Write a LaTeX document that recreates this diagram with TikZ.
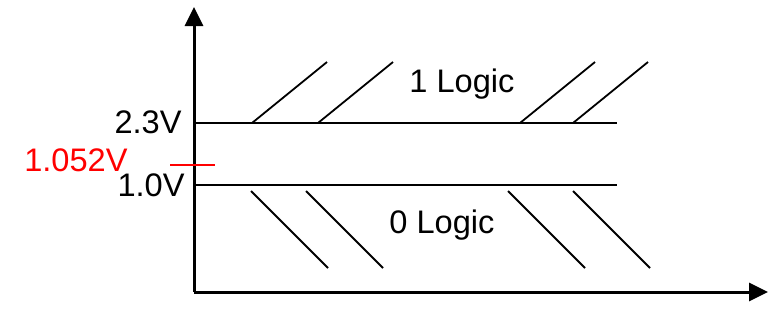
\documentclass[tikz,border=0pt]{standalone}
\usepackage{fontspec}
\setmainfont{Liberation Sans}
\usetikzlibrary{arrows.meta}
\definecolor{levelRed}{HTML}{FF0000}

\tikzset{
  axisline/.style={line width=1.5pt, -{Triangle[length=9.5pt, width=9pt]}},
  levelline/.style={line width=1.3pt},
  hatchline/.style={line width=0.9pt},
  levellabel/.style={inner sep=0pt, font=\fontsize{16.3}{19}\selectfont},
}

\begin{document}
\begin{tikzpicture}[x=0.5pt, y=-0.5pt]
  \useasboundingbox (0,0) rectangle (777,313);
  \coordinate (origin) at (194,292);
  \coordinate (ytop) at (194,7);
  \coordinate (xend) at (768,292);
  \draw[axisline] (origin) -- (ytop);
  \draw[axisline] (origin) -- (xend);

  \coordinate (hiL) at (194,123);
  \coordinate (hiR) at (617,123);
  \coordinate (loL) at (194,185);
  \coordinate (loR) at (617,185);
  \draw[levelline] (hiL) -- (hiR);
  \draw[levelline] (loL) -- (loR);

  \foreach \x in {252,318,520,573}
    \draw[hatchline] (\x,123) -- ++(75,-61);
  \foreach \x in {251,306,508,573}
    \draw[hatchline] (\x,191) -- ++(77,77);

  \node[levellabel, anchor=east] (hiLabel) at (182,122.5) {2.3V};
  \node[levellabel, anchor=east] (loLabel) at (185,185.5) {1.0V};
  \node[levellabel, anchor=east, text=levelRed] (midLabel) at (128,160) {1.052V};
  \coordinate (tickL) at (170,165);
  \coordinate (tickR) at (215,165);
  \draw[levelRed, line width=0.8pt] (tickL) -- (tickR);

  \node[levellabel] (oneLogic) at (462,84) {1 Logic};
  \node[levellabel] (zeroLogic) at (442,225) {0 Logic};
\end{tikzpicture}
\end{document}
